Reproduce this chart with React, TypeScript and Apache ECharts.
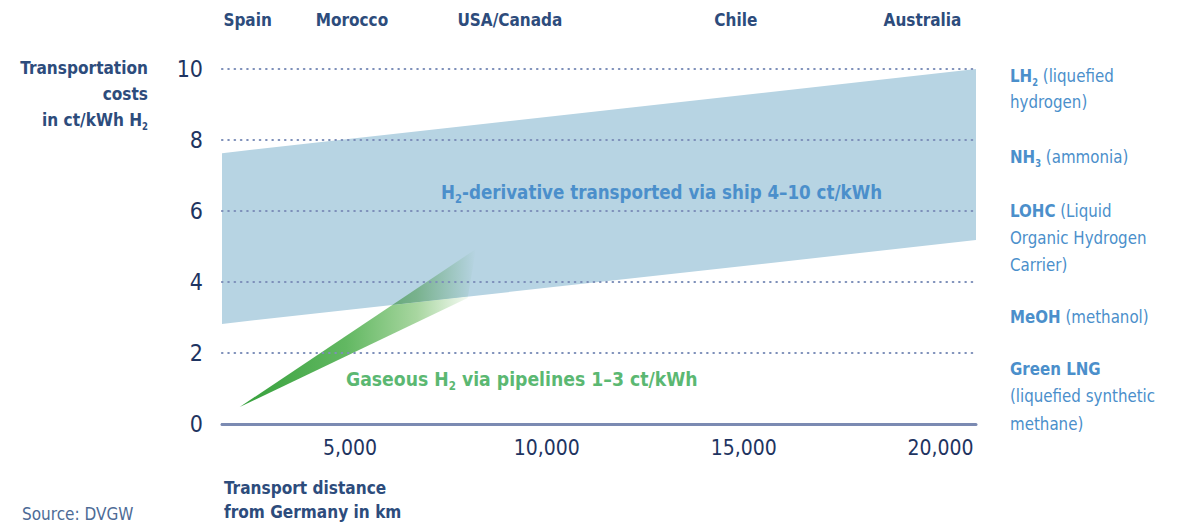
import React, { useEffect, useRef } from "react";
import * as echarts from "echarts";

// ---- data ----
const countries = ["Spain", "Morocco", "USA/Canada", "Chile", "Australia"];
const countryKm = [2400, 5050, 9060, 14800, 19540];
const xTicks = [5000, 10000, 15000, 20000];
const xMin = 1750;
const xMax = 20900;
// ship band (H2 derivatives): lower and upper edges [km, ct/kWh]
const shipLower = [
  [1750, 2.82],
  [20900, 5.18],
];
const shipUpper = [
  [1750, 7.63],
  [20900, 10.0],
];
// pipeline wedge (gaseous H2): tip, upper end, lower end
const pipeWedge = [
  [2200, 0.48],
  [8200, 4.93],
  [7990, 3.55],
];

const F = "'DejaVu Sans Condensed', 'Roboto', sans-serif";
const navy = "#2d4c7c";
const tickColor = "#1e3461";
const blue = "#4b8fcb";
const green = "#5bb872";
const dotColor = "#7d8fb9";
const bandColor = "#b7d4e3";

function lowerEdge(x: number) {
  const [a, b] = shipLower;
  return a[1] + ((x - a[0]) * (b[1] - a[1])) / (b[0] - a[0]);
}

// keep the part of the polygon above (sign=1) or below (sign=-1) the band's lower edge
function clipPoly(poly: number[][], sign: number) {
  const f = (p: number[]) => sign * (p[1] - lowerEdge(p[0]));
  const out: number[][] = [];
  for (let i = 0; i < poly.length; i++) {
    const p = poly[i];
    const q = poly[(i + 1) % poly.length];
    const fp = f(p);
    const fq = f(q);
    if (fp >= 0) out.push(p);
    if ((fp >= 0) !== (fq >= 0)) {
      const t = fp / (fp - fq);
      out.push([p[0] + t * (q[0] - p[0]), p[1] + t * (q[1] - p[1])]);
    }
  }
  return out;
}

function rich(color: string, size: number, lh: number, subPad = 12) {
  return {
    b: { fill: color, fontSize: size, fontWeight: "bold", fontFamily: F, lineHeight: lh },
    r: { fill: color, fontSize: size, fontWeight: "normal", fontFamily: F, lineHeight: lh },
    s: {
      fill: color,
      fontSize: Math.round(size * 0.58),
      fontWeight: "bold",
      fontFamily: F,
      lineHeight: lh,
      padding: [subPad, 0, 0, 0],
    },
  };
}

function txt(x: number, y: number, text: string, r: any, align = "left", va = "top", sx = 1) {
  return {
    type: "text",
    x,
    y,
    z: 100,
    scaleX: sx,
    silent: true,
    style: { text, rich: r, align, verticalAlign: va, fontFamily: F },
  };
}

export default function App() {
  const ref = useRef<HTMLDivElement>(null);
  useEffect(() => {
    if (!ref.current) return;
    const chart = echarts.init(ref.current, undefined, { renderer: "svg" });
    const bandPts = shipLower.concat(shipUpper.slice().reverse());
    const wedgeOut = clipPoly(pipeWedge, -1);
    const wedgeIn = clipPoly(pipeWedge, 1);
    const option: any = {
      animation: false,
      grid: { left: 222, right: 202, top: 69, bottom: 101 },
      xAxis: [
        {
          type: "value",
          min: xMin,
          max: xMax,
          position: "bottom",
          z: 4,
          axisLine: { show: true, onZero: true, lineStyle: { color: "#7b8ab2", width: 3 } },
          axisTick: { show: false },
          splitLine: { show: false },
          axisLabel: {
            customValues: xTicks,
            formatter: (v: number) => v.toLocaleString("en-US"),
            color: tickColor,
            fontSize: 21,
            fontFamily: F,
            margin: 13,
          },
        },
        {
          type: "value",
          min: xMin,
          max: xMax,
          position: "top",
          axisLine: { show: false },
          axisTick: { show: false },
          splitLine: { show: false },
          axisLabel: {
            customValues: countryKm,
            formatter: (v: number) => {
              let best = 0;
              countryKm.forEach((k, i) => {
                if (Math.abs(k - v) < Math.abs(countryKm[best] - v)) best = i;
              });
              return countries[best];
            },
            color: navy,
            fontSize: 17,
            fontWeight: "bold",
            fontFamily: F,
            margin: 41,
          },
        },
      ],
      yAxis: {
        type: "value",
        min: 0,
        max: 10,
        interval: 2,
        z: 3,
        axisLine: { show: false },
        axisTick: { show: false },
        axisLabel: { color: tickColor, fontSize: 23, fontFamily: F, margin: 19 },
        splitLine: {
          show: true,
          lineStyle: { color: dotColor, width: 2.2, type: [0.5, 5.8], cap: "round" },
        },
      },
      series: [
        {
          type: "custom",
          silent: true,
          clip: false,
          data: bandPts,
          encode: { x: 0, y: 1 },
          renderItem: (params: any, api: any) => {
            if (params.dataIndex !== 0) return null;
            return {
              type: "polygon",
              shape: { points: bandPts.map((p) => api.coord(p)) },
              style: { fill: bandColor },
            };
          },
          z: 1,
        },
        {
          type: "custom",
          silent: true,
          clip: false,
          data: pipeWedge,
          encode: { x: 0, y: 1 },
          renderItem: (params: any, api: any) => {
            if (params.dataIndex !== 0) return null;
            const xs = pipeWedge.map((p) => api.coord(p)[0]);
            const x0 = Math.min(...xs);
            const x1 = Math.max(...xs);
            const gOut = new echarts.graphic.LinearGradient(
              x0, 0, x1, 0,
              [
                { offset: 0, color: "#35a03b" },
                { offset: 0.45, color: "#62b862" },
                { offset: 0.75, color: "#a8d6a0" },
                { offset: 1, color: "#ffffff" },
              ],
              true
            );
            const gIn = new echarts.graphic.LinearGradient(
              x0, 0, x1, 0,
              [
                { offset: 0, color: "#268535" },
                { offset: 0.45, color: "#469957" },
                { offset: 0.75, color: "#79b28e" },
                { offset: 1, color: bandColor },
              ],
              true
            );
            const children: any[] = [];
            if (wedgeOut.length > 2)
              children.push({
                type: "polygon",
                shape: { points: wedgeOut.map((p) => api.coord(p)) },
                style: { fill: gOut },
              });
            if (wedgeIn.length > 2)
              children.push({
                type: "polygon",
                shape: { points: wedgeIn.map((p) => api.coord(p)) },
                style: { fill: gIn },
              });
            return { type: "group", children };
          },
          z: 2,
        },
      ],
      graphic: [
        txt(148, 55, "{b|Transportation}\n{b|costs}\n{b|in ct/kWh H}{s|2}", rich(navy, 18, 26), "right", "top", 0.95),
        txt(441, 192, "{b|H}{s|2}{b|-derivative transported via ship 4–10 ct/kWh}", rich(blue, 20, 26, 14), "left", "middle", 0.93),
        txt(346, 379, "{b|Gaseous H}{s|2}{b| via pipelines 1–3 ct/kWh}", rich(green, 20, 26, 14), "left", "middle", 0.96),
        txt(1010, 63, "{b|LH}{s|2}{r| (liquefied}\n{r|hydrogen)}", rich(blue, 18, 26), "left", "top", 0.93),
        txt(1010, 144, "{b|NH}{s|3}{r| (ammonia)}", rich(blue, 18, 26), "left", "top", 0.93),
        txt(1010, 197, "{b|LOHC}{r| (Liquid}\n{r|Organic Hydrogen}\n{r|Carrier)}", rich(blue, 18, 27), "left", "top", 0.93),
        txt(1010, 304, "{b|MeOH}{r| (methanol)}", rich(blue, 18, 26), "left", "top", 0.93),
        txt(1010, 355, "{b|Green LNG}\n{r|(liquefied synthetic}\n{r|methane)}", rich(blue, 18, 27.5), "left", "top", 0.93),
        txt(224, 476, "{b|Transport distance}\n{b|from Germany in km}", rich(navy, 18, 24), "left", "top", 0.95),
        txt(22, 514, "{r|Source: DVGW}", rich("#4d6b96", 17, 22), "left", "middle"),
      ],
    };
    chart.setOption(option);
    return () => chart.dispose();
  }, []);
  return (
    <div
      ref={ref}
      style={{ position: "fixed", left: 0, top: 0, width: 1178, height: 525, background: "#fff" }}
    />
  );
}
